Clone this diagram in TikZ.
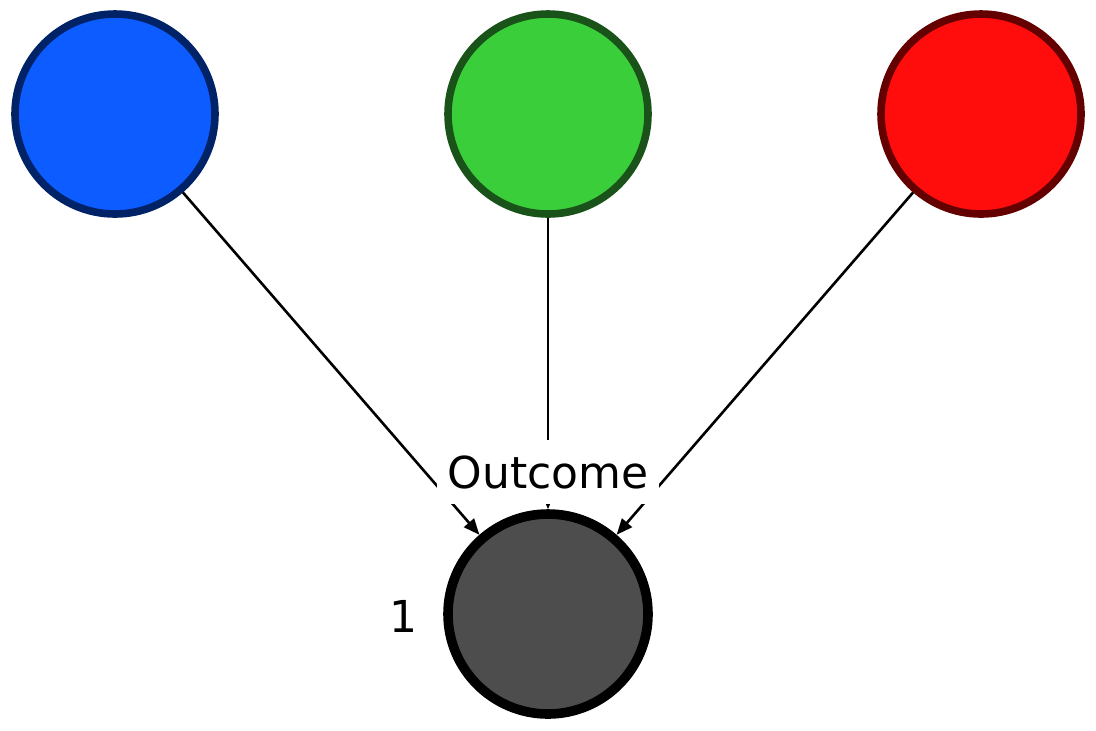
\documentclass[tikz,border=0pt]{standalone}
\usepackage{fontspec}
\setmainfont{DejaVu Sans}
\usetikzlibrary{arrows.meta}
\definecolor{bluefill}{HTML}{0D5CFF}
\definecolor{blueline}{HTML}{002266}
\definecolor{greenfill}{HTML}{3ACF3A}
\definecolor{greenline}{HTML}{1A531A}
\definecolor{redfill}{HTML}{FF0D0D}
\definecolor{redline}{HTML}{650000}
\definecolor{grayfill}{HTML}{4D4D4D}
\begin{document}
\begin{tikzpicture}[x=0.5pt,y=-0.5pt,
  cause/.style={circle,minimum size=100pt,inner sep=0pt,line width=3.8pt},
  effect/.style={circle,minimum size=100pt,inner sep=0pt,line width=4.8pt,draw=black,fill=grayfill},
  link/.style={line width=1.3pt,-{Triangle[length=8pt,width=6.5pt]}},
  txt/.style={font=\fontsize{22}{26}\selectfont}]
\useasboundingbox (0,0) rectangle (1096,730);

% the three causes
\node[cause,draw=blueline,fill=bluefill]   (blue)  at (115,114) {};
\node[cause,draw=greenline,fill=greenfill] (green) at (548,114) {};
\node[cause,draw=redline,fill=redfill]     (red)   at (981,114) {};

% the outcome
\node[effect] (outcome) at (548,614) {};
\node[txt] (one) at (403,616) {1};

\draw[link] (blue)  -- (outcome);
\draw[link] (green) -- (outcome);
\draw[link] (red)   -- (outcome);

% label on top of the arrows
\node[txt,fill=white,inner xsep=5.5pt,minimum height=32pt] (name) at (548,472) {Outcome};
\end{tikzpicture}
\end{document}
